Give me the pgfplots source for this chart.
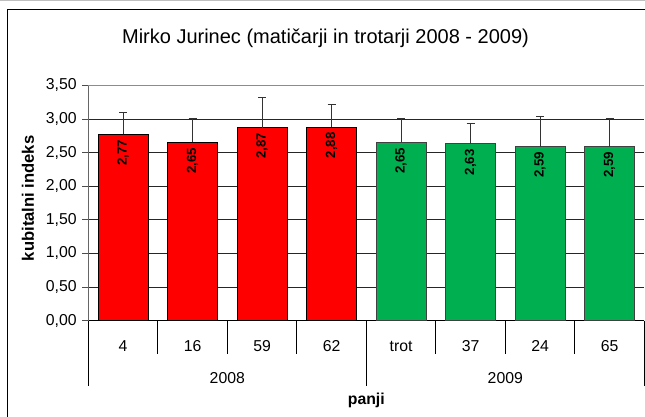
\documentclass[border=0pt]{standalone}
\usepackage{fontspec}
\setmainfont{Liberation Sans}
\usepackage{pgfplots}
\pgfplotsset{compat=1.18}
\usepackage{pgfplotstable}
\definecolor{xlgreen}{HTML}{00B050}
\pgfplotsset{/pgf/number format/.cd, fixed, fixed zerofill, precision=2, use comma, assume math mode=true}
\pgfplotstableread{
x y e
0 2.77 0.33
1 2.65 0.36
2 2.87 0.45
3 2.88 0.34
}\redtab
\pgfplotstableread{
x y e
4 2.65 0.36
5 2.63 0.31
6 2.59 0.45
7 2.59 0.42
}\greentab
\newcommand\lbl{\fontsize{15.8}{18}\selectfont}
\begin{document}
\begin{tikzpicture}[x=1pt,y=1pt]
\path[use as bounding box] (0,0) rectangle (645,416);
\draw[gray!50, line width=0.8pt] (0,415.6) -- (645,415.6);
\draw[black, line width=1pt] (7.3,-20) -- (7.3,406) -- (680,406);
\node[font=\fontsize{20}{24}\selectfont, anchor=base] at (325.5,372.7) {Mirko Jurinec (matičarji in trotarji 2008 - 2009)};
\node[rotate=90, font=\fontsize{16.6}{19}\selectfont\bfseries] at (28,217.7) {kubitalni indeks};
\begin{axis}[
  at={(88.3pt,95.3pt)}, anchor=south west,
  width=556pt, height=235.4pt, scale only axis,
  xmin=-0.5, xmax=7.5, ymin=0, ymax=3.5,
  ytick={0,0.5,1,1.5,2,2.5,3,3.5},
  xtick=\empty,
  axis x line*=bottom, axis y line*=left,
  x axis line style={black, line width=0.8pt},
  y axis line style={black!60, line width=0.8pt},
  ymajorgrids, grid style={black!85, line width=0.8pt},
  tick align=outside, major tick length=6pt, ytick pos=left,
  ytick style={black!70, line width=0.8pt},
  ticklabel style={font=\lbl},
  yticklabel style={inner sep=0pt, xshift=-5.5pt},
  clip=false,
  ybar, bar width=0.72, bar shift=0pt,
  nodes near coords,
  nodes near coords style={rotate=90, anchor=east, font=\fontsize{13.3}{15}\selectfont\bfseries, inner xsep=5pt, inner ysep=0pt, text=black},
]
\addplot[fill=red, draw=black, line width=0.8pt,
  error bars/.cd, y dir=plus, y explicit,
  error bar style={black!80, line width=0.8pt, solid},
  error mark options={rotate=90, mark size=4pt, black!80, line width=0.8pt}]
  table[x=x, y=y, y error=e] {\redtab};
\addplot[fill=xlgreen, draw=black!75, line width=0.8pt,
  error bars/.cd, y dir=plus, y explicit,
  error bar style={black!80, line width=0.8pt, solid},
  error mark options={rotate=90, mark size=4pt, black!80, line width=0.8pt}]
  table[x=x, y=y, y error=e] {\greentab};
\draw[black!45, line width=0.8pt] (axis cs:-0.5,3.5) -- (axis cs:7.5,3.5);
\draw[black, line width=0.8pt] (axis cs:-0.5,0) -- ++(0pt,-65.3pt);
\draw[black, line width=0.8pt] (axis cs:3.5,0) -- ++(0pt,-65.3pt);
\draw[black, line width=0.8pt] (axis cs:7.5,0) -- ++(0pt,-65.3pt);
\draw[black, line width=0.8pt] (axis cs:0.5,0) -- ++(0pt,-33.6pt);
\draw[black, line width=0.8pt] (axis cs:1.5,0) -- ++(0pt,-33.6pt);
\draw[black, line width=0.8pt] (axis cs:2.5,0) -- ++(0pt,-33.6pt);
\draw[black, line width=0.8pt] (axis cs:4.5,0) -- ++(0pt,-33.6pt);
\draw[black, line width=0.8pt] (axis cs:5.5,0) -- ++(0pt,-33.6pt);
\draw[black, line width=0.8pt] (axis cs:6.5,0) -- ++(0pt,-33.6pt);
\node[font=\lbl, anchor=base, yshift=-31pt] at (axis cs:0,0) {4};
\node[font=\lbl, anchor=base, yshift=-31pt] at (axis cs:1,0) {16};
\node[font=\lbl, anchor=base, yshift=-31pt] at (axis cs:2,0) {59};
\node[font=\lbl, anchor=base, yshift=-31pt] at (axis cs:3,0) {62};
\node[font=\lbl, anchor=base, yshift=-31pt] at (axis cs:4,0) {trot};
\node[font=\lbl, anchor=base, yshift=-31pt] at (axis cs:5,0) {37};
\node[font=\lbl, anchor=base, yshift=-31pt] at (axis cs:6,0) {24};
\node[font=\lbl, anchor=base, yshift=-31pt] at (axis cs:7,0) {65};
\node[font=\lbl, anchor=base, yshift=-63pt] at (axis cs:1.5,0) {2008};
\node[font=\lbl, anchor=base, yshift=-63pt] at (axis cs:5.5,0) {2009};
\node[font=\lbl\bfseries, anchor=base, yshift=-84pt] at (axis cs:3.5,0) {panji};
\end{axis}
\end{tikzpicture}
\end{document}
